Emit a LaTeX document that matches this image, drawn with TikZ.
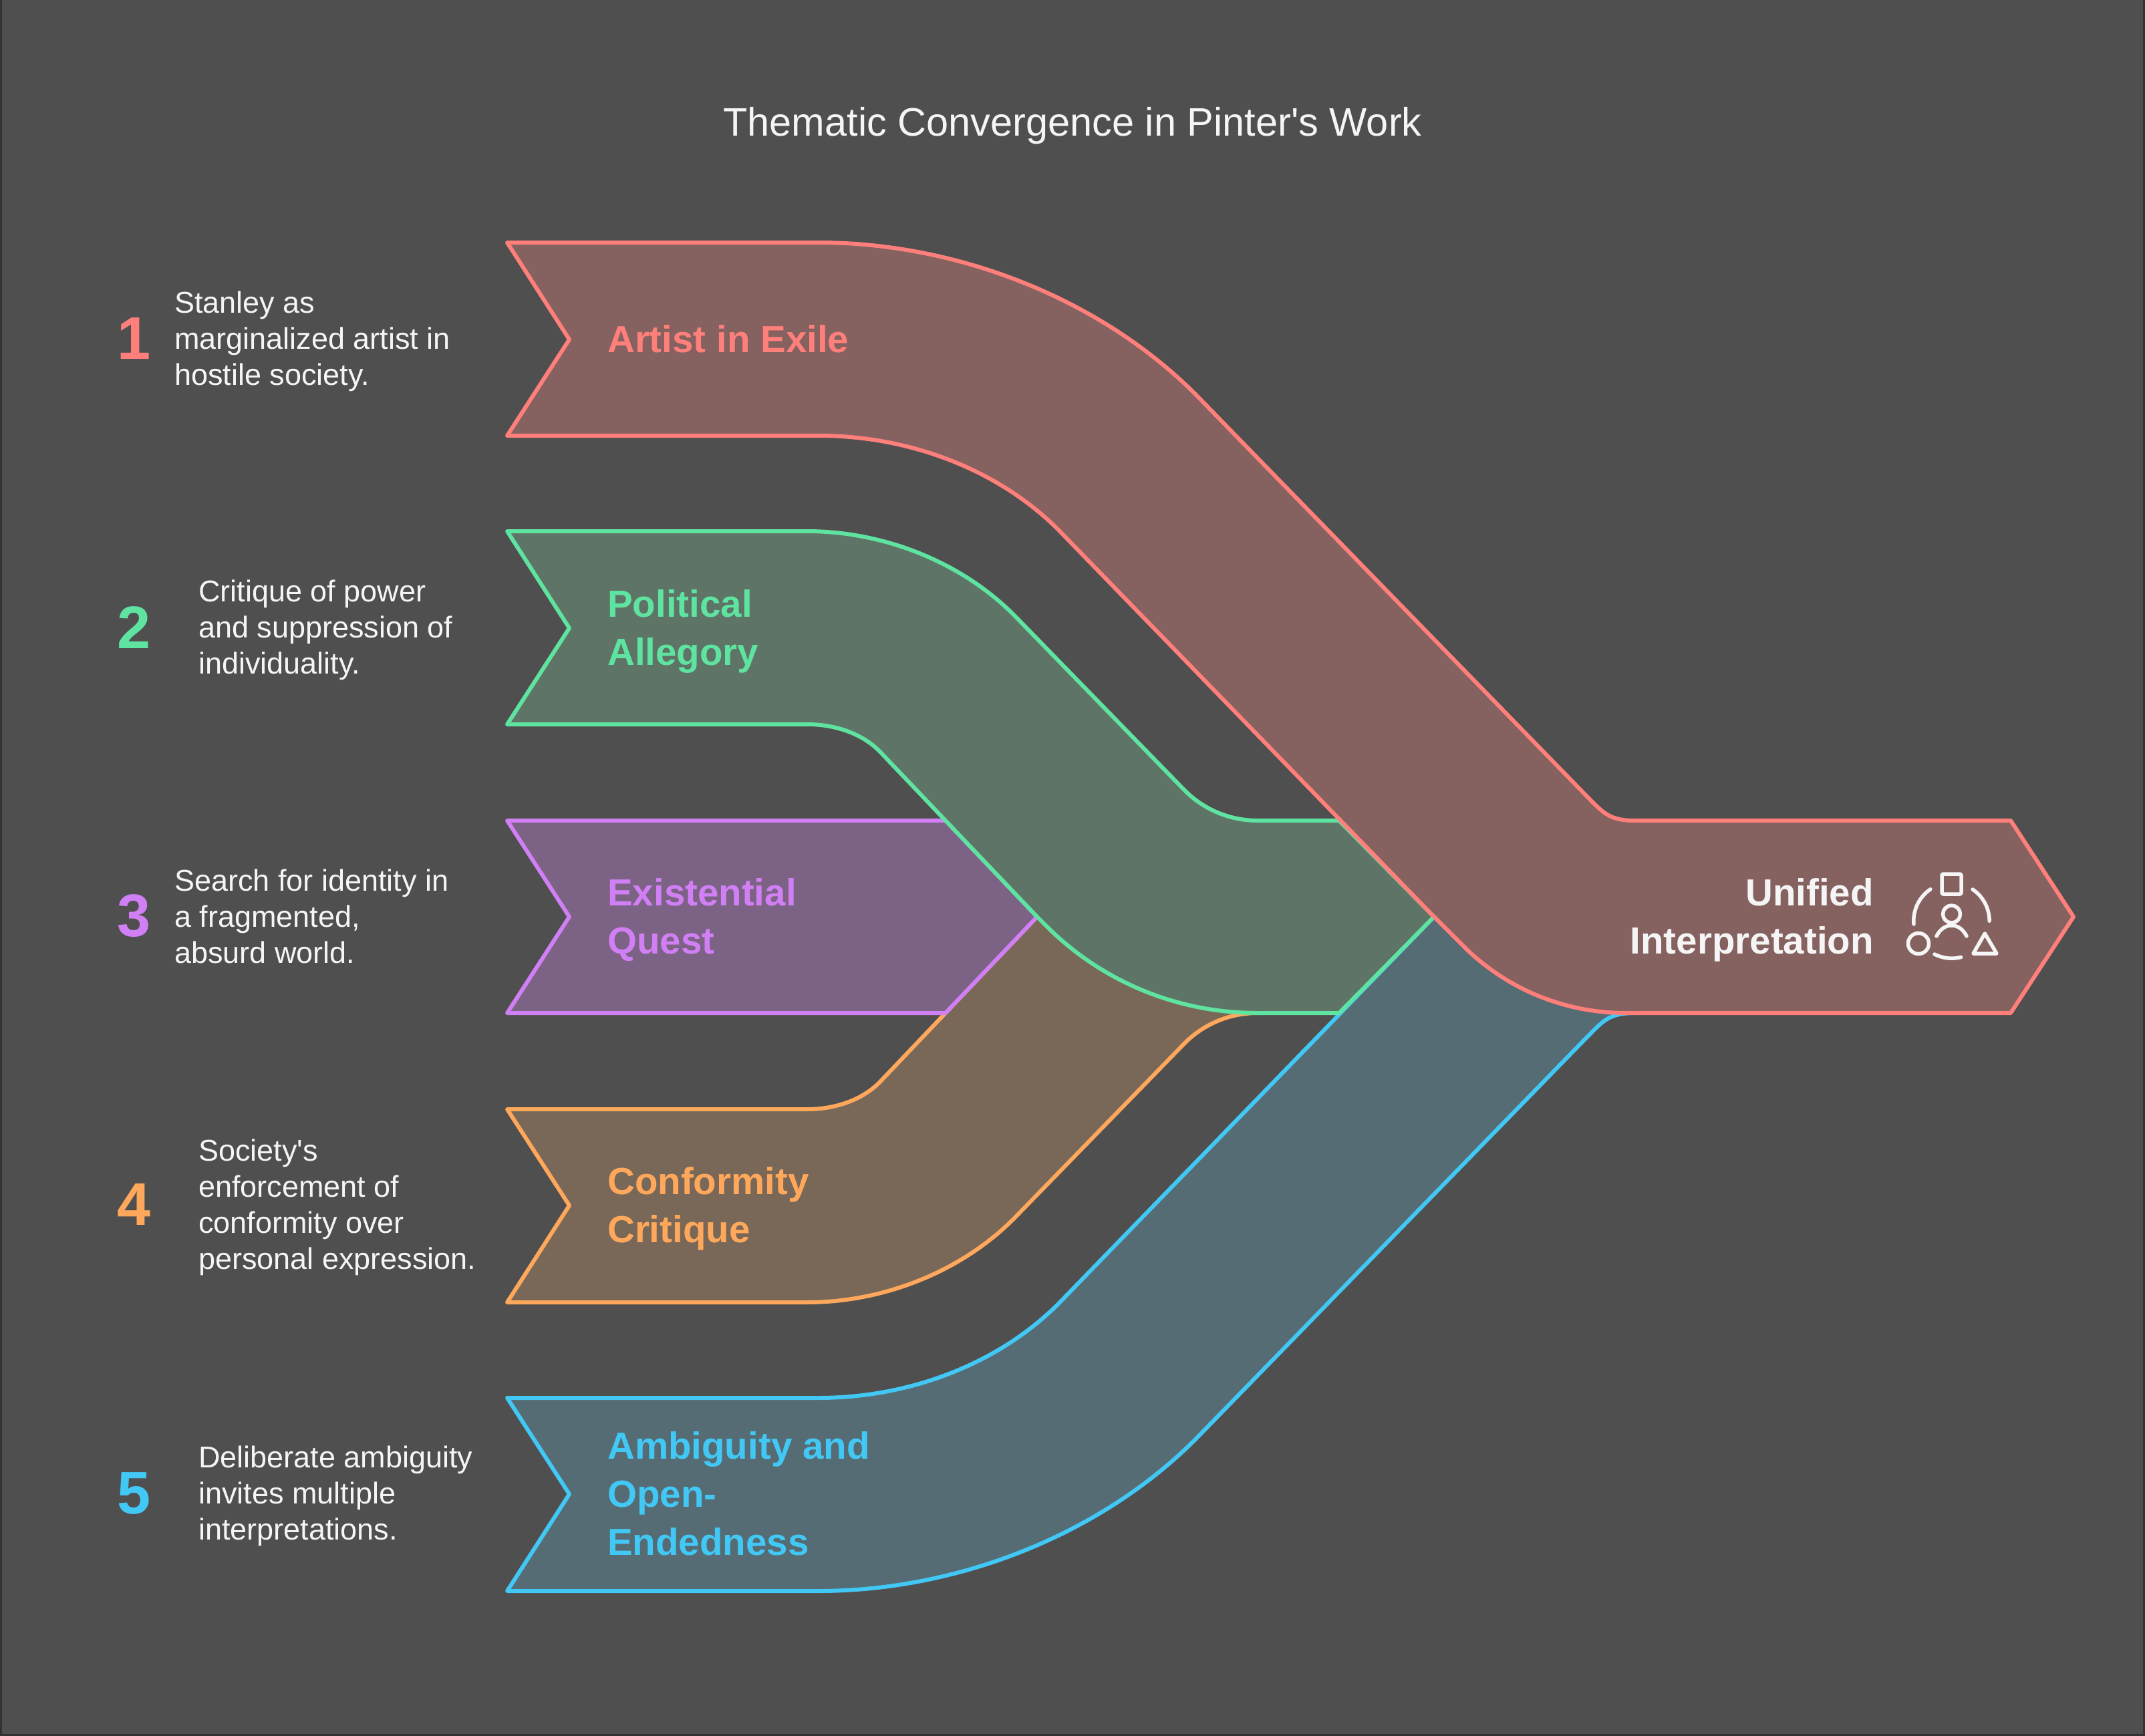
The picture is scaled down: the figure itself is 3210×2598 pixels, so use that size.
\documentclass[tikz,border=0pt]{standalone}
\usepackage{fontspec}
\newfontfamily\basef{Liberation Sans}
\definecolor{bgc}{HTML}{4F4F4F}
\definecolor{framec}{HTML}{333333}
\definecolor{inkc}{HTML}{F5F5F5}
\definecolor{redl}{HTML}{FF7F7B}
\definecolor{redf}{HTML}{856160}
\definecolor{grnl}{HTML}{5FE3A1}
\definecolor{grnf}{HTML}{5E7466}
\definecolor{purl}{HTML}{D17FF5}
\definecolor{purf}{HTML}{7C6285}
\definecolor{orgl}{HTML}{FFA85C}
\definecolor{orgf}{HTML}{796858}
\definecolor{blul}{HTML}{42C8F5}
\definecolor{bluf}{HTML}{566C74}
\tikzset{
  band/.style={line width=6pt,line join=round},
  titletext/.style={inner sep=0pt,text=inkc,font=\basef\fontsize{59.5}{72}\selectfont},
  bodytext/.style={inner sep=0pt,anchor=west,align=left,text=inkc,font=\basef\fontsize{45}{54}\selectfont},
  numtext/.style={inner sep=0pt,font=\basef\fontsize{90}{100}\selectfont\bfseries},
  bandtext/.style={inner sep=0pt,anchor=west,align=left,font=\basef\fontsize{56.5}{72}\selectfont\bfseries},
  icon/.style={draw=inkc,line width=5.5pt,line cap=round,line join=round}
}
\begin{document}
\begin{tikzpicture}[x=1pt,y=-1pt]
\useasboundingbox (0,0) rectangle (3210,2598);
\fill[framec] (0,0) rectangle (3210,2598);
\fill[bgc] (3,0) rectangle (3207,2595);
% blue
\draw[band,draw=blul,fill=bluf] (759,2092) -- (1225,2092) .. controls (1360,2092) and (1493,2042) .. (1584,1951) -- (2146,1372) -- (2300,1372) -- (2446,1516) .. controls (2408,1516) and (2399,1528) .. (2376,1551) -- (1789,2154) .. controls (1644,2299) and (1430,2381) .. (1225,2381) -- (759,2381) -- (852,2236) -- cycle;
% orange
\draw[band,draw=orgl,fill=orgf] (759,1660) -- (1208,1660) .. controls (1252,1660) and (1291,1645) .. (1316,1620) -- (1552,1372) -- (1700,1372) -- (1882,1516) .. controls (1841,1516) and (1802,1532) .. (1773,1561) -- (1517,1824) .. controls (1437,1904) and (1321,1949) .. (1208,1949) -- (759,1949) -- (852,1804) -- cycle;
% purple
\draw[band,draw=purl,fill=purf] (759,1228) -- (1415,1228) -- (1552,1372) -- (1415,1516) -- (759,1516) -- (852,1372) -- cycle;
% green
\draw[band,draw=grnl,fill=grnf] (759,795) -- (1208,795) .. controls (1321,795) and (1437,840) .. (1517,920) -- (1773,1183) .. controls (1802,1212) and (1841,1228) .. (1882,1228) -- (2004,1228) -- (2146,1372) -- (2004,1516) -- (1882,1516) .. controls (1762,1516) and (1649,1469) .. (1566,1386) -- (1552,1372) -- (1316,1124) .. controls (1291,1099) and (1252,1084) .. (1208,1084) -- (759,1084) -- (852,940) -- cycle;
% red
\draw[band,draw=redl,fill=redf] (759,363) -- (1225,363) .. controls (1430,363) and (1644,445) .. (1789,590) -- (2376,1193) .. controls (2399,1216) and (2408,1228) .. (2446,1228) -- (3009,1228) -- (3103,1372) -- (3009,1516) -- (2433,1516) .. controls (2341,1516) and (2254,1480) .. (2189,1415) -- (2146,1372) -- (1584,793) .. controls (1493,702) and (1360,652) .. (1225,652) -- (759,652) -- (852,508) -- cycle;
% title
\node[titletext] (title) at (1605,188) {Thematic Convergence in Pinter's Work};
% numbers
\node[numtext,text=redl] (n1) at (201,507) {1};
\node[numtext,text=grnl] (n2) at (201,939) {2};
\node[numtext,text=purl] (n3) at (201,1371) {3};
\node[numtext,text=orgl] (n4) at (201,1803) {4};
\node[numtext,text=blul] (n5) at (201,2235) {5};
% descriptions
\node[bodytext] (d1) at (261,511) {Stanley as\\marginalized artist in\\hostile society.};
\node[bodytext] (d2) at (297,943) {Critique of power\\and suppression of\\individuality.};
\node[bodytext] (d3) at (261,1371) {Search for identity in\\a fragmented,\\absurd world.};
\node[bodytext] (d4) at (297,1807) {Society's\\enforcement of\\conformity over\\personal expression.};
\node[bodytext] (d5) at (297,2239) {Deliberate ambiguity\\invites multiple\\interpretations.};
% band labels
\node[bandtext,text=redl] (l1) at (909,507) {Artist in Exile};
\node[bandtext,text=grnl] (l2) at (909,945) {Political\\Allegory};
\node[bandtext,text=purl] (l3) at (909,1377) {Existential\\Quest};
\node[bandtext,text=orgl] (l4) at (909,1809) {Conformity\\Critique};
\node[bandtext,text=blul] (l5) at (909,2235) {Ambiguity and\\Open-\\Endedness};
\node[bandtext,anchor=east,align=right,text=inkc] (l6) at (2804,1377) {Unified\\Interpretation};
% icon
\draw[icon,rounded corners=1.5pt] (2906,1308) rectangle (2935,1338);
\draw[icon] (2920.5,1368) circle[radius=13pt];
\draw[icon] (2898,1401) .. controls (2903,1391) and (2911,1385) .. (2920.5,1385) .. controls (2930,1385) and (2938,1391) .. (2943,1401);
\draw[icon] (2871,1412) circle[radius=15.5pt];
\draw[icon] (2970.3,1397) -- (2988,1427) -- (2953,1427) -- cycle;
\draw[icon] (2864,1383) arc[start angle=185,end angle=124,radius=57pt];
\draw[icon] (2952,1331) arc[start angle=56,end angle=0,radius=57pt];
\draw[icon] (2895,1428) arc[start angle=243,end angle=284,radius=57pt];
\end{tikzpicture}
\end{document}
